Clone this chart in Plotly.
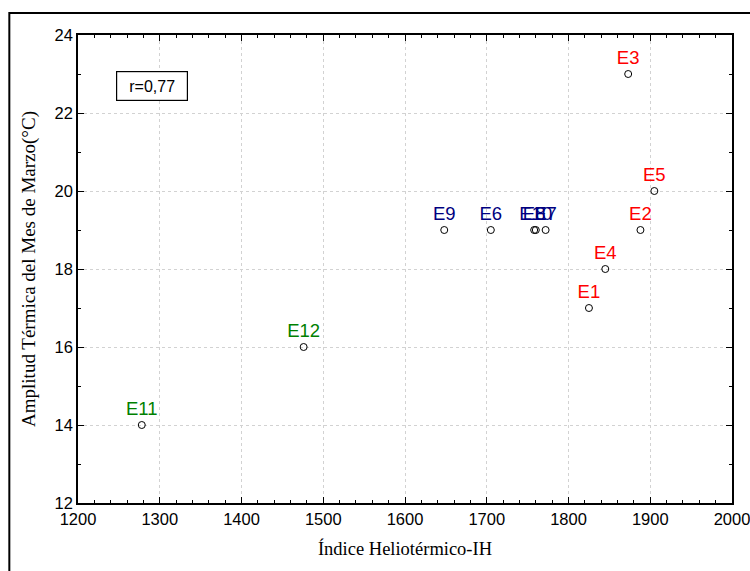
import plotly.graph_objects as go

# Station data: heliothermal index vs. March thermal amplitude
stations = ["E1", "E2", "E3", "E4", "E5", "E6", "E7", "E8", "E9", "E10", "E11", "E12"]
ih = [1825, 1888, 1873, 1845, 1905, 1705, 1772, 1758, 1648, 1760, 1278, 1476]
amplitude = [17, 19, 23, 18, 20, 19, 19, 19, 19, 19, 14, 16]
groups = ["red", "red", "red", "red", "red", "navy", "navy", "navy", "navy", "navy", "green", "green"]
group_colors = {"red": "#FF0000", "navy": "#000080", "green": "#008000"}
r_text = "r=0,77"

fig = go.Figure()
fig.add_trace(go.Scatter(
    x=ih, y=amplitude, text=stations,
    mode="markers+text",
    textposition="top center",
    textfont=dict(family="Liberation Sans, Arial", size=18.5,
                  color=[group_colors[g] for g in groups]),
    marker=dict(symbol="circle-open", size=7, color="black", line=dict(width=1, color="black")),
    cliponaxis=False,
    showlegend=False,
))

axis_common = dict(
    showline=True, linecolor="black", linewidth=1.5, mirror="allticks",
    ticks="inside", ticklen=6, tickcolor="black", tickwidth=1,
    showgrid=True, gridcolor="#d2d2d2", griddash="dot", gridwidth=1,
    zeroline=False, automargin=False, ticklabeloverflow="allow",
    tickfont=dict(family="Liberation Sans, Arial", size=16.5, color="black"),
)

fig.update_xaxes(
    range=[1200, 2000], dtick=100, tick0=1200,
    minor=dict(dtick=20, ticks="inside", ticklen=3, tickcolor="black", showgrid=False),
    title=dict(text="Índice Heliotérmico-IH", standoff=16,
               font=dict(family="Liberation Serif, Times New Roman", size=18.5, color="black")),
    **axis_common,
)
fig.update_yaxes(
    range=[12, 24], dtick=2, tick0=12,
    minor=dict(dtick=1, ticks="inside", ticklen=3, tickcolor="black", showgrid=False),
    title=dict(text="Amplitud Térmica del Mes de Marzo(°C)", standoff=14,
               font=dict(family="Liberation Serif, Times New Roman", size=19, color="black")),
    **axis_common,
)

# Correlation coefficient box
fig.add_annotation(
    xref="paper", yref="paper", x=0.113, y=0.891,
    xanchor="center", yanchor="middle",
    text=r_text, showarrow=False,
    font=dict(family="Liberation Sans, Arial", size=16, color="black"),
    bordercolor="black", borderwidth=1.2, borderpad=4, bgcolor="white",
    width=62, height=20,
)

# Outer frame around the figure
fig.add_shape(
    type="rect", xref="paper", yref="paper",
    x0=-0.105, y0=-0.2, x1=1.1, y1=1.047,
    line=dict(color="black", width=2), layer="above",
)

fig.update_layout(
    width=750, height=571,
    margin=dict(l=78, r=18, t=35, b=68),
    plot_bgcolor="white", paper_bgcolor="white",
)

fig.write_html("out.html")
